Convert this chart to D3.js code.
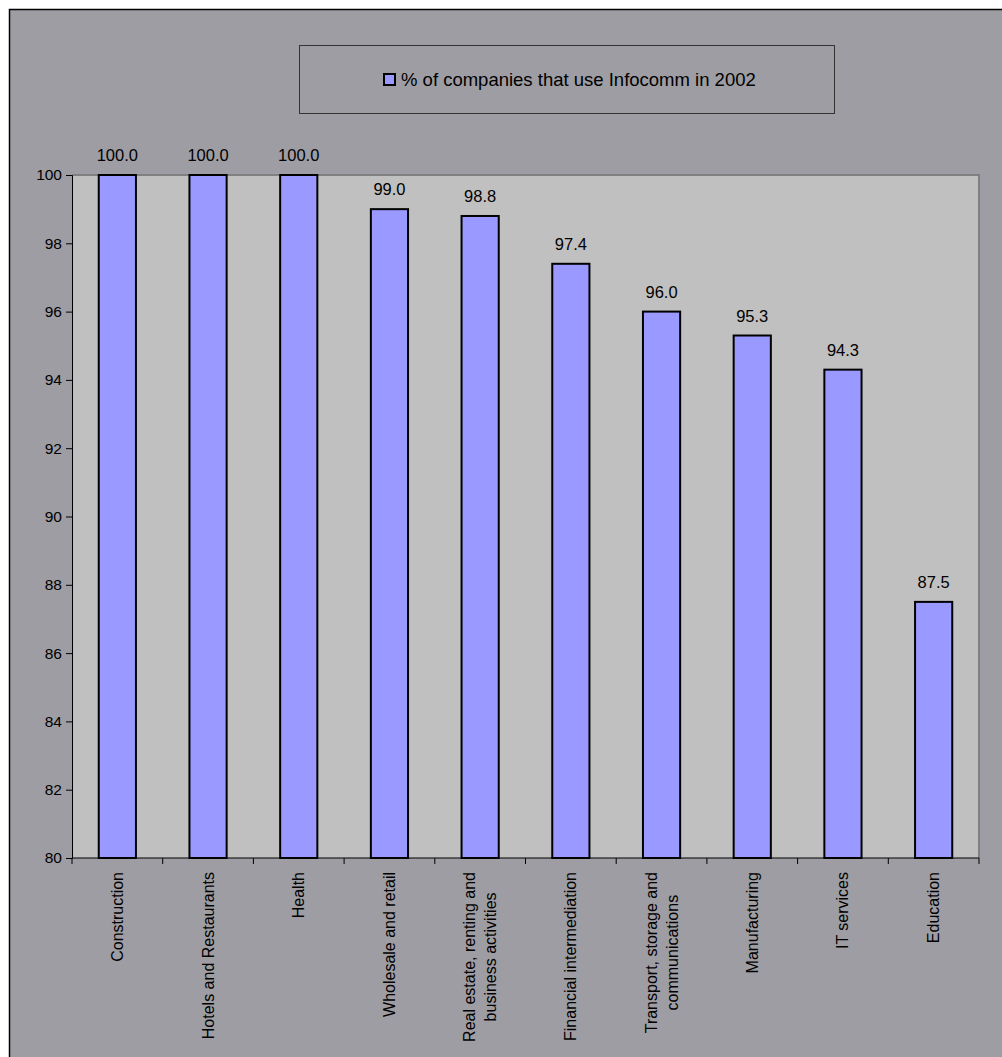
<!DOCTYPE html>
<html><head><meta charset="utf-8">
<script src="https://cdn.jsdelivr.net/npm/d3@7"></script>
<style>body{margin:0;background:#fff}svg{display:block}text{font-family:"Liberation Sans",Arial,sans-serif;fill:#000}</style>
</head><body>
<script>
const categories = ["Construction","Hotels and Restaurants","Health","Wholesale and retail","Real estate, renting and\nbusiness activities","Financial intermediation","Transport, storage and\ncommunications","Manufacturing","IT services","Education"];
const values = [100.0,100.0,100.0,99.0,98.8,97.4,96.0,95.3,94.3,87.5];
const yTicks = [80,82,84,86,88,90,92,94,96,98,100];
const seriesName = "% of companies that use Infocomm in 2002";

const W=1002,H=1057;
const svg=d3.select("body").append("svg").attr("width",W).attr("height",H);
svg.append("rect").attr("x",9.5).attr("y",9.5).attr("width",W).attr("height",H).attr("fill","#9e9da3").attr("stroke","#000").attr("stroke-width",1.5);

const L=72,R=979,T=175,B=858;
const x=d3.scaleBand().domain(categories).range([L,R]).paddingInner(0.59).paddingOuter(0.295);
const xb=d3.scaleBand().domain(categories).range([L,R]);
const y=d3.scaleLinear().domain([80,100]).range([B,T]);

svg.append("rect").attr("x",L).attr("y",T).attr("width",R-L).attr("height",B-T).attr("fill","#c0c0c0");
svg.append("path").attr("d",`M${L},${T}H${R}V${B}`).attr("fill","none").attr("stroke","#808080").attr("stroke-width",2);

svg.selectAll("rect.bar").data(values).join("rect").attr("class","bar")
 .attr("x",(d,i)=>x(categories[i])).attr("width",x.bandwidth())
 .attr("y",d=>y(d)).attr("height",d=>B-y(d))
 .attr("fill","#9999ff").attr("stroke","#000").attr("stroke-width",2);

svg.selectAll("text.val").data(values).join("text").attr("class","val")
 .attr("x",(d,i)=>xb(categories[i])+xb.bandwidth()/2).attr("y",d=>y(d)-14)
 .attr("text-anchor","middle").style("font-size","16.5px").text(d=>d.toFixed(1));

// y axis
const ya=svg.append("g").attr("transform",`translate(${L},0)`).call(d3.axisLeft(y).tickValues(yTicks).tickSize(6).tickPadding(4).tickFormat(d3.format("d")));
ya.select(".domain").attr("stroke","#000");
ya.selectAll("text").style("font-size","15.5px").style("font-family","Liberation Sans, Arial, sans-serif");
// x axis
const xa=svg.append("g").attr("transform",`translate(0,${B})`);
xa.append("line").attr("x1",L).attr("x2",R).attr("y1",0).attr("y2",0).attr("stroke","#000");
const bounds=[L,...categories.map(c=>xb(c)+xb.bandwidth())];
xa.selectAll("line.t").data(bounds).join("line").attr("class","t").attr("x1",d=>d).attr("x2",d=>d).attr("y1",0).attr("y2",6).attr("stroke","#000");

categories.forEach((c,i)=>{
  const lines=c.split("\n");
  const cx=xb(c)+xb.bandwidth()/2;
  const g=svg.append("g");
  const ts=lines.map((ln,j)=>g.append("text").style("font-size","16px").attr("text-anchor","middle").attr("dominant-baseline","central").text(ln));
  const maxW=d3.max(ts,t=>t.node().getComputedTextLength());
  const cy=B+14+maxW/2;
  const lh=21;
  ts.forEach((t,j)=>{
    const off=(j-(lines.length-1)/2)*lh;
    t.attr("transform",`translate(${cx+off},${cy}) rotate(-90)`);
  });
});

// legend
const lg=svg.append("g");
lg.append("rect").attr("x",299.5).attr("y",45.5).attr("width",535).attr("height",68).attr("fill","none").attr("stroke","#333").attr("stroke-width",1);
lg.append("rect").attr("x",384).attr("y",74).attr("width",11).attr("height",11).attr("fill","#9999ff").attr("stroke","#000").attr("stroke-width",2);
lg.append("text").attr("x",401).attr("y",86).style("font-size","18.5px").text(seriesName);
</script>
</body></html>
